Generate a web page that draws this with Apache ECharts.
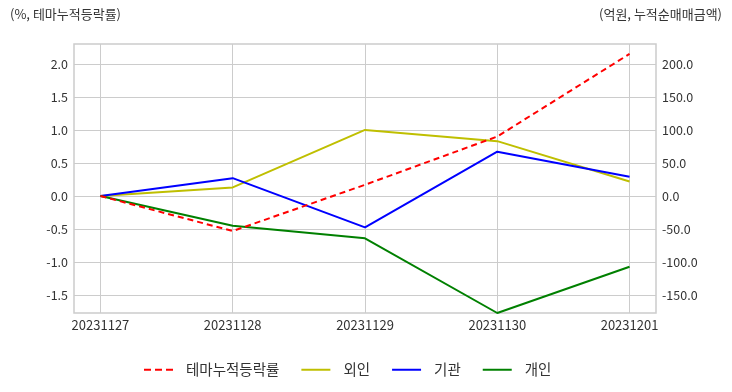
<!DOCTYPE html>
<html><head><meta charset="utf-8">
<script src="https://cdn.jsdelivr.net/npm/echarts@6/dist/echarts.min.js"></script>
<style>html,body{margin:0;padding:0;background:#fff}#c{width:732px;height:392px}</style>
</head><body><div id="c"></div>
<script>
const categories = ['20231127','20231128','20231129','20231130','20231201'];
const themeRate = [0, -0.53, 0.17, 0.90, 2.15];
const foreign = [0, 13, 100, 83, 22];
const institution = [0, 27, -47.5, 67, 29];
const individual = [0, -45, -64, -177, -107];
const leftTicks = [-1.5, -1.0, -0.5, 0.0, 0.5, 1.0, 1.5, 2.0];
const rightTicks = [-150, -100, -50, 0, 50, 100, 150, 200];

const toPairs = arr => arr.map((v, i) => [i, v]);
const font = '"Noto Sans CJK KR", "Noto Sans", sans-serif';
const solidIcon = 'path://M0,0 L29,0 L29,2 L0,2 Z';
const dashIcon = 'path://M0,0 h7 v2 h-7 Z M11,0 h7 v2 h-7 Z M22,0 h7 v2 h-7 Z';
const chart = echarts.init(document.getElementById('c'));
chart.setOption({
  animation: false,
  textStyle: {fontFamily: font},
  grid: {left: 74, right: 76, top: 44, bottom: 79, show: true, borderColor: '#cccccc', borderWidth: 1.5},
  graphic: [
    {type: 'text', left: 10, top: 8, style: {text: '(%, 테마누적등락률)', font: '13px ' + font, fill: '#333'}},
    {type: 'text', right: 10, top: 8, style: {text: '(억원, 누적순매매금액)', font: '13px ' + font, fill: '#333'}}
  ],
  legend: {
    bottom: 10, left: 139, itemWidth: 29, itemHeight: 2, itemGap: 22,
    textStyle: {fontSize: 14.5, color: '#333', fontFamily: font, padding: [0, 0, 0, 8]},
    data: [
      {name: '테마누적등락률', icon: dashIcon},
      {name: '외인', icon: solidIcon},
      {name: '기관', icon: solidIcon},
      {name: '개인', icon: solidIcon}
    ]
  },
  xAxis: {
    type: 'value', min: -0.2, max: 4.2,
    axisLine: {show: false}, axisTick: {show: false, customValues: [0,1,2,3,4]},
    axisLabel: {customValues: [0,1,2,3,4], formatter: v => categories[Math.round(v)], color: '#333', fontSize: 13, margin: 6},
    splitLine: {show: true, lineStyle: {color: '#cccccc', width: 1}}
  },
  yAxis: [
    {type: 'value', min: -1.77, max: 2.30,
     axisLine: {show: false}, axisTick: {show: false, customValues: leftTicks},
     axisLabel: {customValues: leftTicks, formatter: v => v.toFixed(1), color: '#333', fontSize: 12.5, margin: 6},
     splitLine: {show: true, lineStyle: {color: '#cccccc', width: 1}}},
    {type: 'value', min: -177, max: 230,
     axisLine: {show: false}, axisTick: {show: false, customValues: rightTicks},
     axisLabel: {customValues: rightTicks, formatter: v => v.toFixed(1), color: '#333', fontSize: 12.5, margin: 6},
     splitLine: {show: false}}
  ],
  series: [
    {name: '테마누적등락률', type: 'line', yAxisIndex: 0, data: toPairs(themeRate), symbol: 'none',
     lineStyle: {color: '#ff0000', width: 2, type: [6, 4]}, itemStyle: {color: '#ff0000'}, z: 5},
    {name: '외인', type: 'line', yAxisIndex: 1, data: toPairs(foreign), symbol: 'none',
     lineStyle: {color: '#bfbf00', width: 2}, itemStyle: {color: '#bfbf00'}},
    {name: '기관', type: 'line', yAxisIndex: 1, data: toPairs(institution), symbol: 'none',
     lineStyle: {color: '#0000ff', width: 2}, itemStyle: {color: '#0000ff'}},
    {name: '개인', type: 'line', yAxisIndex: 1, data: toPairs(individual), symbol: 'none',
     lineStyle: {color: '#008000', width: 2}, itemStyle: {color: '#008000'}}
  ]
});
</script></body></html>
